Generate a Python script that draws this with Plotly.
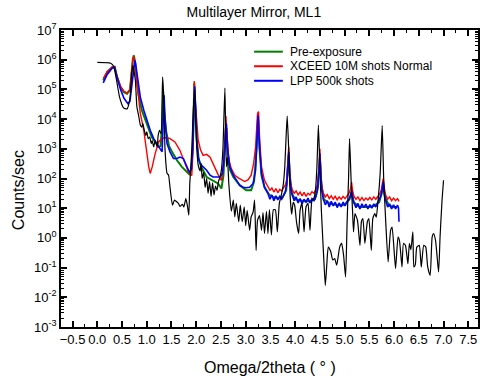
import plotly.graph_objects as go

# ---------------- data ----------------
black_x = [0.00, 0.27, 0.33, 0.39, 0.45, 0.53, 0.60, 0.66, 0.70, 0.72, 0.74, 0.77, 0.80, 0.84, 0.87, 0.90,
           0.92, 0.95, 0.98, 1.00, 1.03, 1.06, 1.09, 1.11, 1.14, 1.17, 1.21, 1.23, 1.26, 1.29, 1.32, 1.34,
           1.37, 1.41, 1.44, 1.47, 1.52, 1.56, 1.61, 1.64, 1.67, 1.72, 1.75, 1.79, 1.82, 1.85, 1.87, 1.91,
           1.94, 1.97, 2.01, 2.04, 2.08, 2.10, 2.12, 2.15, 2.18, 2.21, 2.24, 2.27, 2.30, 2.33, 2.36, 2.39,
           2.42, 2.45, 2.48, 2.51, 2.54, 2.58, 2.61, 2.63, 2.66, 2.71, 2.75, 2.78, 2.81, 2.86, 2.89, 2.93,
           2.97, 3.00, 3.03, 3.08, 3.11, 3.15, 3.18, 3.21, 3.24, 3.28, 3.32, 3.35, 3.38, 3.42, 3.45, 3.48,
           3.52, 3.56, 3.60, 3.64, 3.68, 3.72, 3.76, 3.79, 3.82, 3.84, 3.87, 3.90, 3.93, 3.96, 3.99, 4.03,
           4.07, 4.10, 4.14, 4.18, 4.22, 4.26, 4.30, 4.34, 4.38, 4.41, 4.44, 4.47, 4.50, 4.53, 4.56, 4.58,
           4.61, 4.64, 4.67, 4.72, 4.76, 4.80, 4.84, 4.90, 4.94, 4.98, 5.02, 5.05, 5.08, 5.10, 5.13, 5.16,
           5.18, 5.21, 5.26, 5.31, 5.34, 5.37, 5.41, 5.46, 5.49, 5.54, 5.57, 5.61, 5.64, 5.68, 5.72, 5.76,
           5.79, 5.83, 5.88, 5.93, 5.96, 6.03, 6.08, 6.11, 6.16, 6.19, 6.23, 6.28, 6.31, 6.34, 6.38, 6.40,
           6.43, 6.46, 6.51, 6.55, 6.60, 6.64, 6.68, 6.73, 6.77, 6.80, 6.84, 6.90, 6.93, 6.97, 7.00]
black_y = [8.1e5, 7.6e5, 6.0e5, 2.0e5, 5.5e4, 2.4e4, 2.2e4, 5.0e4, 4.0e5, 6.5e5, 4.4e5, 2.0e5, 2.6e4, 1.2e4, 6.3e3, 5.4e3,
           7.1e3, 4.2e3, 2.8e3, 3.7e3, 2.2e3, 2.5e3, 1.5e3, 1.9e3, 1.15e3, 1.9e3, 1.15e3, 2.8e3, 4.2e3, 3.2e3, 2.6e5, 7.2e4,
           890, 150, 130, 51, 12.6, 18.6, 16.2, 14.5, 11.5, 13.5, 11, 21, 12.6, 5.8, 68, 890,
           2.0e4, 1.0e5, 1.15e3, 280, 180, 320, 100, 160, 50, 100, 32, 79, 25, 71, 28, 56,
           40, 79, 112, 200, 1000, 1.1e5, 250, 520, 63, 7.9, 18.6, 5.1, 14.5, 3.5, 12.6, 3.5,
           11, 2.6, 8.5, 1.8, 5.1, 7.4, 18.6, 0.38, 4.0, 5.6, 1.8, 7.1, 1.4, 7.9, 1.4, 8.9,
           1.26, 8.9, 8.9, 1.6, 14.5, 27.5, 63, 245, 3.2e3, 1.26e4, 890, 24, 6.3, 15.8, 12.6, 3.2,
           1.4, 8.5, 14.5, 1.6, 11, 14.5, 1.8, 18.6, 22, 40, 245, 6.3e3, 245, 8.5, 0.83, 0.18,
           0.025, 0.126, 0.49, 0.34, 0.18, 0.2, 0.12, 0.49, 0.65, 0.25, 0.048, 3.2, 100, 2.2e3, 100, 8.5,
           1.6, 6.6, 3.9, 0.56, 3.5, 4.5, 0.65, 3.5, 4.5, 0.38, 4.5, 6.6, 5.0, 21, 160, 6.0e3,
           100, 3.9, 0.155, 1.8, 2.3, 0.093, 1.07, 0.8, 0.105, 0.65, 0.56, 0.135, 0.65, 0.4, 1.6, 0.105,
           0.126, 0.49, 0.56, 0.105, 0.56, 0.5, 0.105, 0.055, 1.07, 1.4, 0.8, 0.071, 1.07, 18.6, 87]

pre_x = [0.12, 0.20, 0.30, 0.35, 0.40, 0.47, 0.54, 0.60, 0.66, 0.69, 0.72, 0.74, 0.77, 0.80, 0.83, 0.90,
         0.97, 1.04, 1.10, 1.17, 1.24, 1.28, 1.31, 1.33, 1.35, 1.39, 1.45, 1.51, 1.61, 1.71, 1.81, 1.87,
         1.91, 1.94, 1.96, 1.98, 2.01, 2.05, 2.10, 2.21, 2.34, 2.44, 2.51, 2.55, 2.59, 2.61, 2.64, 2.68,
         2.75, 2.88, 3.01, 3.11, 3.17, 3.22, 3.25, 3.28, 3.32, 3.38, 3.48, 3.55, 3.65, 3.75, 3.82, 3.85,
         3.87, 3.89, 3.93, 4.00, 4.10, 4.20, 4.30, 4.40, 4.46, 4.50, 4.53, 4.58, 4.70, 4.80, 4.90, 5.00,
         5.10, 5.14, 5.18, 5.30, 5.40, 5.50, 5.60, 5.70, 5.75, 5.78, 5.81, 5.90, 6.00, 6.05]
pre_y = [2.0e5, 3.8e5, 5.6e5, 5.8e5, 2.6e5, 1.2e5, 8.1e4, 7.2e4, 9.3e4, 3.4e5, 1.1e6, 1.4e6, 7.4e5, 2.0e5, 7.2e4, 2.0e4,
         9.1e3, 4.8e3, 2.5e3, 1.7e3, 1.15e3, 1.26e3, 6.3e3, 8.1e4, 2.0e4, 4.0e3, 1.26e3, 790, 410, 245, 166, 132,
         250, 3.2e3, 1.6e5, 2.5e4, 2.0e3, 450, 250, 112, 87, 68, 46, 126, 2.5e3, 5.0e3, 630, 200,
         112, 59, 40, 40, 79, 1.0e3, 1.26e4, 1.0e3, 126, 51, 28, 24, 22, 24, 40, 160,
         630, 126, 32, 20, 18, 17, 17, 20, 50, 500, 63, 20, 14, 13, 12.6, 13,
         20, 35, 16, 11, 11, 11, 12, 16, 32, 63, 25, 12, 11, 11]

xceed_x = [0.12, 0.20, 0.30, 0.35, 0.40, 0.47, 0.54, 0.60, 0.66, 0.69, 0.72, 0.74, 0.77, 0.80, 0.84, 0.87,
           0.94, 0.99, 1.04, 1.07, 1.11, 1.17, 1.24, 1.30, 1.40, 1.47, 1.57, 1.67, 1.77, 1.84, 1.91, 1.93,
           1.95, 1.96, 1.98, 2.01, 2.04, 2.09, 2.14, 2.21, 2.28, 2.34, 2.41, 2.48, 2.51, 2.54, 2.58, 2.60,
           2.62, 2.66, 2.71, 2.78, 2.85, 2.91, 2.98, 3.05, 3.11, 3.16, 3.20, 3.24, 3.26, 3.28, 3.32, 3.38,
           3.45, 3.49, 3.53, 3.57, 3.61, 3.65, 3.69, 3.73, 3.77, 3.80, 3.83, 3.85, 3.87, 3.89, 3.91, 3.94,
           3.98, 4.02, 4.06, 4.10, 4.14, 4.18, 4.22, 4.26, 4.30, 4.34, 4.38, 4.42, 4.45, 4.48, 4.50, 4.52,
           4.54, 4.57, 4.61, 4.65, 4.69, 4.73, 4.77, 4.81, 4.85, 4.89, 4.93, 4.97, 5.01, 5.05, 5.09, 5.12,
           5.14, 5.16, 5.19, 5.23, 5.27, 5.31, 5.35, 5.39, 5.43, 5.47, 5.51, 5.55, 5.59, 5.63, 5.67, 5.71,
           5.74, 5.76, 5.78, 5.80, 5.83, 5.87, 5.91, 5.95, 5.99, 6.03, 6.07, 6.10]
xceed_y = [2.3e5, 4.0e5, 5.6e5, 5.8e5, 2.8e5, 1.26e5, 8.5e4, 7.6e4, 1.0e5, 3.2e5, 1.12e6, 1.26e6, 6.3e5, 1.8e5, 4.0e4, 1.55e4,
           4.2e3, 890, 245, 148, 245, 690, 1.7e3, 2.2e3, 2.4e3, 2.2e3, 1.7e3, 890, 320, 166, 126, 630,
           3.2e4, 1.9e5, 4.0e4, 9.1e3, 1.95e3, 890, 600, 650, 525, 316, 166, 100, 87, 190, 1.15e3, 1.26e4,
           3.2e3, 410, 214, 129, 105, 91, 79, 91, 129, 316, 1.15e3, 1.55e4, 1.8e4, 2.5e3, 245, 87,
           51, 40, 48, 35, 46, 33, 43, 38, 50, 60, 89, 250, 1150, 200, 71, 42,
           32, 38, 28, 35, 26, 34, 25, 32, 28, 36, 32, 42, 63, 200, 1000, 160,
           50, 32, 24, 29, 21, 26, 20, 25, 19, 24, 20, 25, 21, 26, 32, 45,
           76, 40, 25, 20, 24, 18, 23, 18, 22, 19, 23, 19, 24, 20, 25, 30,
           40, 63, 100, 50, 28, 20, 24, 18, 22, 18, 21, 17]

lpp_x = [0.12, 0.20, 0.30, 0.35, 0.40, 0.47, 0.54, 0.62, 0.66, 0.70, 0.74, 0.76, 0.78, 0.80, 0.87, 0.94,
         1.00, 1.07, 1.14, 1.21, 1.27, 1.31, 1.33, 1.35, 1.37, 1.41, 1.47, 1.54, 1.61, 1.67, 1.74, 1.81,
         1.86, 1.90, 1.93, 1.95, 1.97, 1.99, 2.01, 2.04, 2.08, 2.14, 2.21, 2.28, 2.34, 2.41, 2.48, 2.53,
         2.56, 2.59, 2.61, 2.63, 2.68, 2.75, 2.81, 2.88, 2.95, 3.01, 3.08, 3.15, 3.20, 3.24, 3.25, 3.28,
         3.32, 3.38, 3.45, 3.49, 3.53, 3.57, 3.61, 3.65, 3.69, 3.73, 3.77, 3.80, 3.83, 3.85, 3.87, 3.89,
         3.91, 3.94, 3.98, 4.02, 4.06, 4.10, 4.14, 4.18, 4.22, 4.26, 4.30, 4.34, 4.38, 4.42, 4.45, 4.48,
         4.50, 4.52, 4.54, 4.57, 4.61, 4.65, 4.69, 4.73, 4.77, 4.81, 4.85, 4.89, 4.93, 4.97, 5.01, 5.05,
         5.09, 5.12, 5.14, 5.16, 5.19, 5.23, 5.27, 5.31, 5.35, 5.39, 5.43, 5.47, 5.51, 5.55, 5.59, 5.63,
         5.67, 5.71, 5.74, 5.76, 5.78, 5.80, 5.83, 5.87, 5.91, 5.95, 5.99, 6.03, 6.07, 6.09, 6.10]
lpp_y = [1.66e5, 3.2e5, 5.2e5, 5.5e5, 2.5e5, 1.0e5, 5.0e4, 3.3e4, 4.0e4, 1.6e5, 7.1e5, 9.5e5, 6.3e5, 3.4e5, 5.5e4, 2.0e4,
         9.1e3, 4.2e3, 2.2e3, 1.5e3, 1.0e3, 790, 6.3e3, 6.3e4, 1.0e4, 1.5e3, 790, 470, 470, 525, 470, 275,
         166, 200, 1.0e3, 1.6e4, 1.26e5, 2.0e4, 1.95e3, 525, 316, 245, 190, 129, 112, 112, 112, 148,
         410, 4.2e3, 7.1e3, 1.15e3, 245, 129, 87, 59, 51, 49, 51, 68, 190, 4.2e3, 1.35e4, 1.15e3,
         148, 51, 31, 20, 28, 18, 26, 19, 25, 20, 28, 35, 63, 200, 780, 160,
         50, 28, 18, 24, 15, 21, 14, 20, 16, 22, 15, 21, 18, 25, 40, 160,
         690, 126, 40, 20, 13, 18, 11, 17, 12, 16, 10.5, 15, 11, 16, 12, 17,
         20, 28, 40, 25, 15, 10.5, 14.5, 9.5, 14, 10.5, 13.8, 9.5, 13.2, 10, 14, 11,
         15, 20, 28, 45, 76, 35, 18, 11, 14, 9.5, 13, 9.5, 12.6, 10, 3.5]

y_tick_exponents = [-3, -2, -1, 0, 1, 2, 3, 4, 5, 6, 7]

legend_names = ["Pre-exposure", "XCEED 10M shots Normal", "LPP 500k shots"]
legend_colors = ["#008000", "#ff0000", "#0000ff"]

# ---------------- figure ----------------
fig = go.Figure()
fig.add_trace(go.Scatter(x=pre_x, y=pre_y, mode="lines", name=legend_names[0], showlegend=False,
                         line=dict(color=legend_colors[0], width=2)))
fig.add_trace(go.Scatter(x=xceed_x, y=xceed_y, mode="lines", name=legend_names[1], showlegend=False,
                         line=dict(color=legend_colors[1], width=1.4)))
fig.add_trace(go.Scatter(x=lpp_x, y=lpp_y, mode="lines", name=legend_names[2], showlegend=False,
                         line=dict(color=legend_colors[2], width=1.6)))
fig.add_trace(go.Scatter(x=black_x, y=black_y, mode="lines", name="Simulation", showlegend=False,
                         line=dict(color="#000000", width=1.2, shape="spline", smoothing=0.5)))

minor_vals = [m * 10.0 ** k for k in range(-3, 7) for m in range(2, 10)]

# hand-built legend (compact row spacing as in the reference)
legend_rows_y = [0.927, 0.878, 0.829]
shapes = []
annotations = []
for name, color, ly in zip(legend_names, legend_colors, legend_rows_y):
    shapes.append(dict(type="line", xref="paper", yref="paper", x0=0.463, x1=0.532, y0=ly, y1=ly,
                       line=dict(color=color, width=2)))
    annotations.append(dict(text=name, xref="paper", yref="paper", x=0.545, y=ly, xanchor="left",
                            yanchor="middle", showarrow=False, font=dict(size=12)))

annotations += [
    dict(text="Omega/2theta ( \u00b0 )", xref="paper", yref="paper", x=0.5, y=-0.138,
         xanchor="center", yanchor="middle", showarrow=False, font=dict(size=16)),
    dict(text="Counts/sec", xref="paper", yref="paper", x=-0.103, y=0.461,
         xanchor="center", yanchor="middle", textangle=-90, showarrow=False, font=dict(size=16)),
]

font_family = "Liberation Sans, Arial, sans-serif"
fig.update_layout(
    width=480, height=383,
    margin=dict(l=61, r=0, t=30, b=56),
    paper_bgcolor="white", plot_bgcolor="white",
    font=dict(family=font_family, size=13, color="black"),
    title=dict(text="Multilayer Mirror, ML1", x=0.529, xanchor="center", y=0.968, yanchor="middle",
               font=dict(size=14)),
    showlegend=False,
    xaxis=dict(range=[-0.734, 7.697], tickmode="linear", tick0=0, dtick=0.5, tickformat=".1f",
               ticks="inside", ticklen=6, tickwidth=1.5, tickcolor="black",
               minor=dict(ticks="inside", dtick=0.25, tick0=0, ticklen=3, tickwidth=1.2, tickcolor="black"),
               showline=True, linecolor="black", linewidth=1.6, mirror="allticks",
               showgrid=False, zeroline=False, tickfont=dict(size=13)),
    yaxis=dict(type="log", range=[-3, 7], tickmode="array",
               tickvals=[10.0 ** e for e in y_tick_exponents],
               ticktext=["10<sup>%d</sup>" % e for e in y_tick_exponents],
               ticks="inside", ticklen=6, tickwidth=1.5, tickcolor="black",
               minor=dict(ticks="inside", tickmode="array", tickvals=minor_vals, ticklen=3,
                          tickwidth=1, tickcolor="black"),
               showline=True, linecolor="black", linewidth=1.6, mirror="allticks",
               showgrid=False, zeroline=False, tickfont=dict(size=13)),
    shapes=shapes,
    annotations=annotations,
)

fig.write_html("out.html")
